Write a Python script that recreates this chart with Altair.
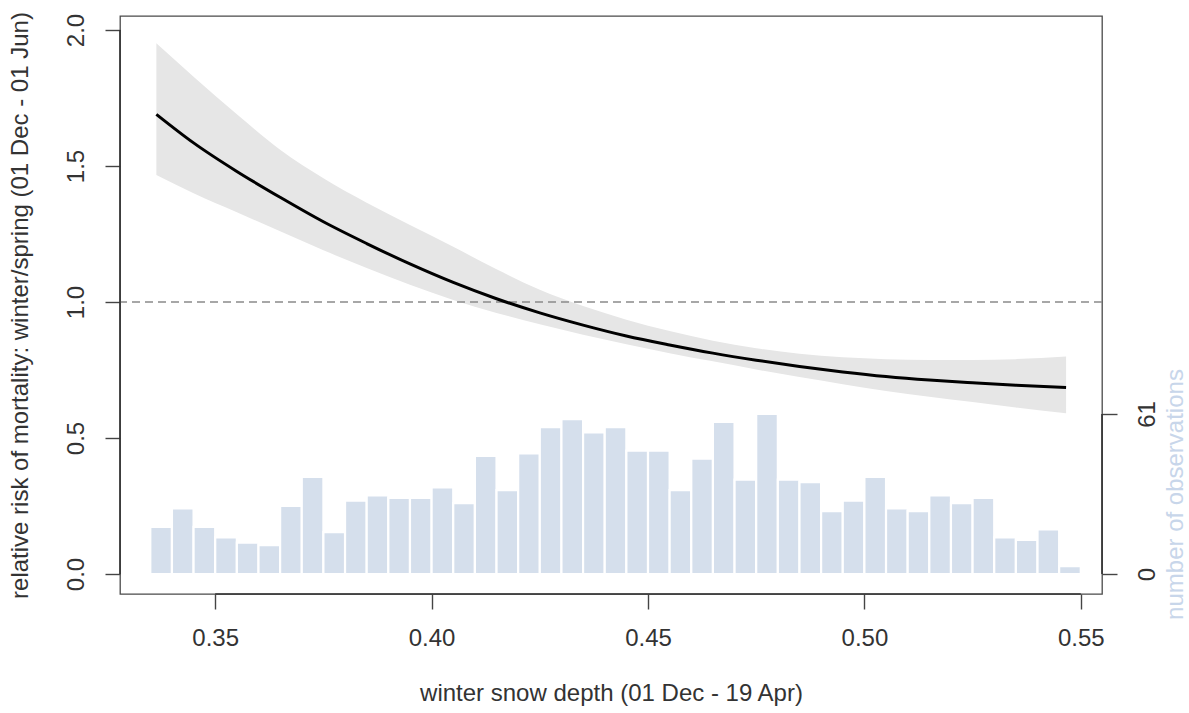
import altair as alt
import pandas as pd

# Fitted relative risk of winter/spring mortality along winter snow depth
depth = [0.3364, 0.345, 0.355, 0.365, 0.375, 0.385, 0.395, 0.405, 0.415, 0.425, 0.435,
         0.445, 0.455, 0.465, 0.475, 0.485, 0.495, 0.505, 0.515, 0.525, 0.535, 0.5466]
rr = [1.69, 1.585, 1.48, 1.385, 1.295, 1.215, 1.14, 1.072, 1.012, 0.96, 0.915,
      0.875, 0.842, 0.812, 0.786, 0.763, 0.743, 0.726, 0.713, 0.703, 0.694, 0.686]
rr_lo = [1.467, 1.40, 1.33, 1.26, 1.19, 1.125, 1.063, 1.007, 0.96, 0.918, 0.88,
         0.845, 0.812, 0.782, 0.752, 0.724, 0.698, 0.673, 0.652, 0.632, 0.612, 0.591]
rr_hi = [1.951, 1.828, 1.69, 1.56, 1.455, 1.365, 1.283, 1.203, 1.12, 1.045, 0.985,
         0.935, 0.893, 0.858, 0.83, 0.81, 0.797, 0.79, 0.787, 0.787, 0.79, 0.80]

# Histogram of observations: bins of width 0.005 starting at 0.335
bin_start = 0.335
bin_width = 0.005
counts = [18, 25, 18, 14, 12, 11, 26, 37, 16, 28, 30, 29, 29, 33, 27, 45, 32, 46, 56, 59,
          54, 56, 47, 47, 32, 44, 58, 36, 61, 36, 35, 24, 28, 37, 25, 24, 30, 27, 29, 14,
          13, 17, 3]

x_ticks = [0.35, 0.40, 0.45, 0.50, 0.55]
y_ticks = [0.0, 0.5, 1.0, 1.5, 2.0]
count_ticks = [0, max(counts)]
reference_rr = 1.0

W, H = 982, 578
FONT = "Liberation Sans"
TXT = "#333333"

fit = pd.DataFrame({"depth": depth, "rr": rr, "lo": rr_lo, "hi": rr_hi})
hist = pd.DataFrame({
    "left": [bin_start + i * bin_width for i in range(len(counts))],
    "right": [bin_start + (i + 1) * bin_width for i in range(len(counts))],
    "n": counts,
    "zero": [0] * len(counts),
})

x_scale = alt.Scale(domain=[0.328, 0.5549], nice=False, zero=False)
y_scale = alt.Scale(domain=[-0.0735, 2.0515], nice=False, zero=False)
n_scale = alt.Scale(domain=[-7.62, 212.7], nice=False, zero=False)

common = dict(grid=False, domain=False, labelFont=FONT, labelFontSize=24, labelColor=TXT,
              labelOverlap=False, labelFlush=False, tickColor="#444444", tickWidth=1.4,
              tickSize=15, titleFont=FONT, titleFontSize=24, titleFontWeight="normal")

x_axis = alt.Axis(values=x_ticks, format=".2f", title="winter snow depth (01 Dec - 19 Apr)",
                  orient="bottom", labelPadding=17, labelBaseline="top",
                  labelAlign="center", titleY=99, titleBaseline="middle",
                  titleColor=TXT, **common)
y_axis = alt.Axis(values=y_ticks, format=".1f",
                  title="relative risk of mortality: winter/spring (01 Dec - 01 Jun)",
                  orient="left", labelPadding=22, labelAngle=270,
                  labelAlign="center", labelBaseline="alphabetic",
                  titleAngle=270, titleX=-100, titleY=289, titleBaseline="middle",
                  titleAlign="center", titleColor=TXT, **common)
n_axis = alt.Axis(values=count_ticks, format="d", title="number of observations",
                  orient="right", labelPadding=18, labelAngle=270,
                  labelAlign="center", labelBaseline="top", titleColor="#c8d6ea",
                  titleAngle=270, titleX=73, titleY=478, titleBaseline="middle",
                  titleAlign="center", **common)

X = lambda f: alt.X(f, type="quantitative", scale=x_scale, axis=x_axis)

bars = alt.Chart(hist).mark_rect(color="#d5dfec", stroke="white", strokeWidth=2.2).encode(
    x=X("left"), x2="right",
    y=alt.Y("zero:Q", scale=n_scale, axis=n_axis), y2="n:Q",
)
n_line = alt.Chart(pd.DataFrame({"a": [count_ticks[0]], "b": [count_ticks[1]]})).mark_rule(
    color="#333333", strokeWidth=1.6).encode(
    x=alt.value(W), y=alt.Y("a:Q", scale=n_scale, axis=n_axis), y2="b:Q")

band = alt.Chart(fit).mark_area(color="#e6e6e6", opacity=1, interpolate="monotone").encode(
    x=X("depth"), y=alt.Y("lo:Q", scale=y_scale, axis=y_axis), y2="hi:Q")
ref = alt.Chart(pd.DataFrame({"v": [reference_rr]})).mark_rule(
    color="#8a8a8a", strokeWidth=1.4, strokeDash=[8, 5]).encode(
    y=alt.Y("v:Q", scale=y_scale, axis=y_axis))
curve = alt.Chart(fit).mark_line(color="black", strokeWidth=3, interpolate="monotone").encode(
    x=X("depth"), y=alt.Y("rr:Q", scale=y_scale, axis=y_axis))
y_line = alt.Chart(pd.DataFrame({"a": [y_ticks[0]], "b": [y_ticks[-1]]})).mark_rule(
    color="#333333", strokeWidth=1.6).encode(
    x=alt.value(0), y=alt.Y("a:Q", scale=y_scale, axis=y_axis), y2="b:Q")
x_line = alt.Chart(pd.DataFrame({"a": [x_ticks[0]], "b": [x_ticks[-1]]})).mark_rule(
    color="#333333", strokeWidth=1.6).encode(
    y=alt.value(H), x=X("a"), x2="b")

obs = alt.layer(bars, n_line)
risk = alt.layer(band, ref, curve, y_line, x_line)

chart = alt.layer(obs, risk).resolve_scale(y="independent").properties(
    width=W, height=H,
    padding={"left": 120, "top": 16, "right": 87, "bottom": 119},
    autosize=alt.AutoSizeParams(type="none"),
    background="white",
).configure_view(stroke="#4a4a4a", strokeWidth=1.3)

chart.save("out.html", embed_options={"renderer": "svg", "actions": False})
